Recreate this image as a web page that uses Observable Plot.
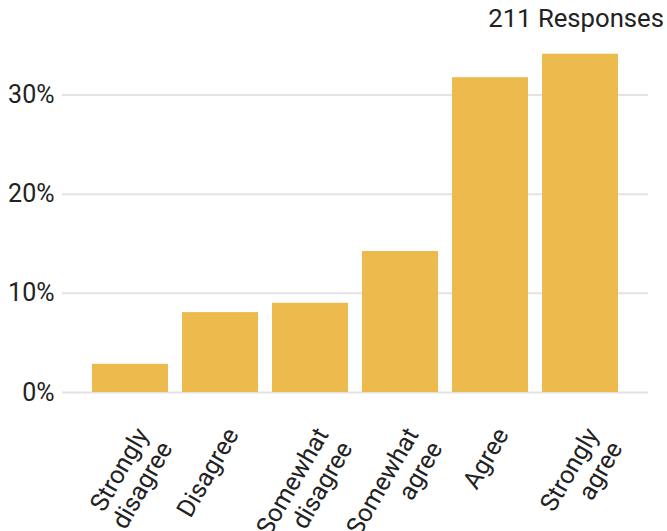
<!DOCTYPE html>
<html>
<head>
<meta charset="utf-8">
<script src="https://cdn.jsdelivr.net/npm/d3@7"></script>
<script src="https://cdn.jsdelivr.net/npm/@observablehq/plot@0.6"></script>
<style>
  html, body { margin: 0; padding: 0; background: #fff; }
  #wrap { position: relative; width: 667px; height: 531px; font-family: Roboto, sans-serif; }
  #responses { position: absolute; right: 3px; top: 6px; font-size: 25.7px; line-height: 1; color: #222; }
</style>
</head>
<body>
<div id="wrap">
  <div id="responses"></div>
</div>
<script>
// Survey answers and their share of the 211 responses
const categories = ["Strongly disagree", "Disagree", "Somewhat disagree", "Somewhat agree", "Agree", "Strongly agree"];
const tickLabels = ["Strongly\ndisagree", "Disagree", "Somewhat\ndisagree", "Somewhat\nagree", "Agree", "Strongly\nagree"];
const shares = [0.0284, 0.0806, 0.0900, 0.1422, 0.3175, 0.3412];
const totalResponses = 211;

const rows = categories.map((c, i) => ({category: c, share: shares[i]}));
const labelOf = new Map(categories.map((c, i) => [c, tickLabels[i]]));

const chart = Plot.plot({
  width: 667,
  height: 531,
  marginLeft: 62,
  marginRight: 19,
  marginTop: 45,
  marginBottom: 139,
  style: {fontFamily: "Roboto, sans-serif", fontSize: "25px", color: "#222", background: "transparent"},
  x: {domain: categories, paddingInner: 0.1556, paddingOuter: 0.333, round: false},
  y: {domain: [0, 0.35]},
  marks: [
    Plot.gridY([0, 0.1, 0.2, 0.3], {stroke: "#e3e3e3", strokeOpacity: 1, strokeWidth: 2}),
    Plot.barY(rows, {x: "category", y: "share", fill: "#EDBA4E"}),
    Plot.axisY({ticks: [0, 0.1, 0.2, 0.3], tickFormat: d3.format(".0%"), tickSize: 0, tickPadding: 8, label: null, fontSize: 25}),
    Plot.axisX({tickFormat: d => labelOf.get(d), tickSize: 0, tickRotate: -60, tickPadding: 32, lineAnchor: "top", lineHeight: 1.1, dx: 2, label: null, fontSize: 25})
  ]
});

document.getElementById("wrap").prepend(chart);
document.getElementById("responses").textContent = `${totalResponses} Responses`;
</script>
</body>
</html>
